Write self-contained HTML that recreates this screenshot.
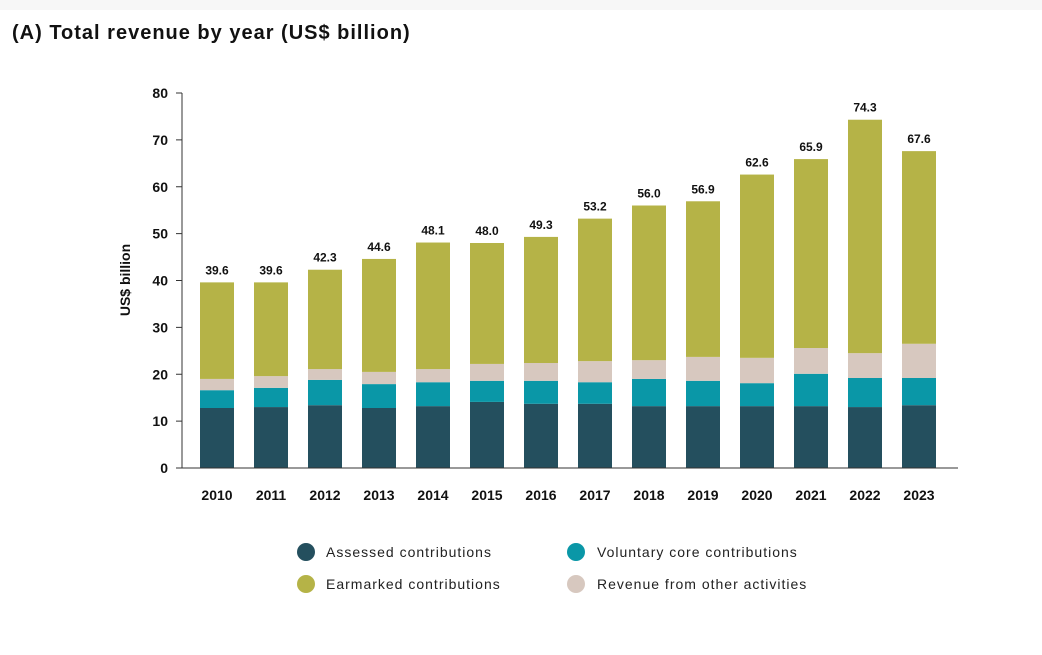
<!DOCTYPE html>
<html><head><meta charset="utf-8"><style>
body{margin:0;background:#fff;font-family:"Liberation Sans",sans-serif;}
svg text{font-family:"Liberation Sans",sans-serif;}
</style></head><body>
<svg width="1042" height="650">
<rect x="0" y="0" width="1042" height="10" fill="#f7f7f7"/>
<text x="12" y="39" font-size="20" font-weight="bold" letter-spacing="1" fill="#111">(A) Total revenue by year (US$ billion)</text>
<g id="plot"></g>
<text transform="translate(130,280) rotate(-90)" text-anchor="middle" font-size="14" font-weight="bold" fill="#111">US$ billion</text>
<g>
<circle cx="306" cy="552" r="9" fill="#244f5e"/>
<text x="326" y="557" font-size="14" letter-spacing="1" fill="#222">Assessed contributions</text>
<circle cx="576" cy="552" r="9" fill="#0a97a7"/>
<text x="597" y="557" font-size="14" letter-spacing="1" fill="#222">Voluntary core contributions</text>
<circle cx="306" cy="584" r="9" fill="#b5b347"/>
<text x="326" y="589" font-size="14" letter-spacing="1" fill="#222">Earmarked contributions</text>
<circle cx="576" cy="584" r="9" fill="#d7c8bf"/>
<text x="597" y="589" font-size="14" letter-spacing="1" fill="#222">Revenue from other activities</text>
</g>
</svg>
<script>
const years=["2010","2011","2012","2013","2014","2015","2016","2017","2018","2019","2020","2021","2022","2023"];
const assessed=[12.8,13.0,13.4,12.8,13.2,14.1,13.7,13.7,13.2,13.2,13.2,13.2,13.0,13.4];
const voluntary=[3.8,4.1,5.4,5.1,5.1,4.5,4.9,4.6,5.8,5.4,4.9,6.9,6.2,5.8];
const other=[2.4,2.5,2.3,2.6,2.8,3.6,3.8,4.5,4.0,5.1,5.4,5.5,5.3,7.3];
const totals=[39.6,39.6,42.3,44.6,48.1,48.0,49.3,53.2,56.0,56.9,62.6,65.9,74.3,67.6];
const yTicks=[0,10,20,30,40,50,60,70,80];
const NS="http://www.w3.org/2000/svg";
const g=document.getElementById('plot');
const y0=468,yTop=93,yMax=80;
const yS=v=>y0-(y0-yTop)*v/yMax;
const xS=i=>217+i*54;
const bw=34;
function mk(t,a,p){const e=document.createElementNS(NS,t);for(const k in a)e.setAttribute(k,a[k]);(p||g).appendChild(e);return e;}
yTicks.forEach(v=>{
 const l=mk('line',{x1:176,x2:182,y1:yS(v),y2:yS(v),stroke:'#333'});
 
 
 const t=mk('text',{x:168,y:yS(v)+5,'text-anchor':'end','font-size':14,'font-weight':'bold',fill:'#111'});
 t.textContent=v;
 
 
});
const ax=mk('line',{x1:182,x2:182,y1:yTop,y2:y0,stroke:'#333'});


const colors=['#244f5e','#0a97a7','#d7c8bf','#b5b347'];
const names=['assessed','voluntary','other','earmarked'];
years.forEach((yr,i)=>{
 const earm=totals[i]-assessed[i]-voluntary[i]-other[i];
 const vals=[assessed[i],voluntary[i],other[i],earm];
 let base=0;
 vals.forEach((v,k)=>{
  const r=mk('rect',{x:xS(i)-bw/2,y:yS(base+v),width:bw,height:yS(base)-yS(base+v),fill:colors[k]});
  
  
  base+=v;
 });
 const t=mk('text',{x:xS(i),y:yS(totals[i])-8,'text-anchor':'middle','font-size':12,'font-weight':'bold',fill:'#111'});
 t.textContent=totals[i].toFixed(1);
 
 
 const xl=mk('text',{x:xS(i),y:500,'text-anchor':'middle','font-size':14,'font-weight':'bold',fill:'#111'});
 xl.textContent=yr;
 
 
});
const xa=mk('line',{x1:182,x2:958,y1:y0,y2:y0,stroke:'#333'});


</script>
</body></html>
